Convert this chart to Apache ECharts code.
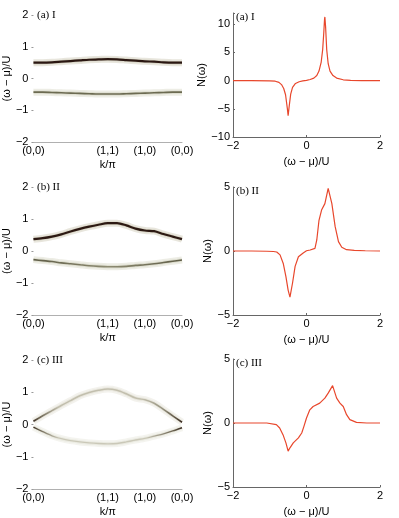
<!DOCTYPE html>
<html>
<head>
<meta charset="utf-8">
<style>
  html, body { margin: 0; padding: 0; background: #fff; }
  #main { width: 399px; height: 518px; }
</style>
<script src="https://cdn.jsdelivr.net/npm/echarts@6/dist/echarts.min.js"></script>
</head>
<body>
<div id="main"></div>
<script>
// k path (0,0) -> (1,1) -> (1,0) -> (0,0)
var kPath = [0, 0.25, 0.5, 0.75, 1, 1.25, 1.5, 1.75, 2, 2.25, 2.5, 2.75, 3, 3.25, 3.5, 3.75, 4];
var kTickLabels = {0: '(0,0)', 2: '(1,1)', 3: '(1,0)', 4: '(0,0)'};

// band positions (omega - mu)/U along kPath
var bandAUpper = [0.50, 0.50, 0.51, 0.53, 0.55, 0.57, 0.59, 0.60, 0.61, 0.60, 0.58, 0.56, 0.54, 0.53, 0.51, 0.50, 0.50];
var bandALower = [-0.43, -0.43, -0.44, -0.45, -0.46, -0.47, -0.48, -0.49, -0.49, -0.49, -0.48, -0.47, -0.46, -0.45, -0.44, -0.43, -0.43];
var bandBUpper = [0.37, 0.40, 0.45, 0.52, 0.61, 0.69, 0.76, 0.82, 0.87, 0.87, 0.80, 0.70, 0.64, 0.62, 0.53, 0.45, 0.37];
var bandBLower = [-0.27, -0.30, -0.33, -0.37, -0.40, -0.43, -0.46, -0.48, -0.49, -0.49, -0.48, -0.45, -0.43, -0.40, -0.36, -0.32, -0.28];
var bandCUpper = [0.10, 0.27, 0.43, 0.59, 0.74, 0.89, 0.99, 1.06, 1.10, 1.06, 0.95, 0.82, 0.77, 0.66, 0.47, 0.27, 0.07];
var bandCLower = [-0.08, -0.22, -0.35, -0.44, -0.50, -0.54, -0.57, -0.59, -0.60, -0.59, -0.54, -0.48, -0.43, -0.36, -0.29, -0.20, -0.10];

// N(omega)
var omegaA = [-2, -1.5, -1.0, -0.85, -0.75, -0.68, -0.62, -0.57, -0.52, -0.5, -0.47, -0.43, -0.38, -0.3, -0.2, -0.1, 0, 0.1, 0.2, 0.28, 0.34, 0.4, 0.44, 0.47, 0.49, 0.5, 0.52, 0.55, 0.59, 0.64, 0.72, 0.82, 1.0, 1.2, 1.5, 2];
var dosA = [0, 0, -0.03, -0.1, -0.3, -0.7, -1.4, -2.5, -5.0, -6.2, -4.5, -2.4, -1.2, -0.5, -0.2, -0.05, 0.05, 0.2, 0.45, 0.9, 1.7, 3.3, 5.5, 8.5, 10.8, 11.3, 9.5, 5.5, 3.0, 1.7, 0.9, 0.45, 0.15, 0.05, 0.01, 0];
var omegaB = [-2, -1.5, -1.08, -0.9, -0.81, -0.72, -0.63, -0.56, -0.5, -0.45, -0.38, -0.31, -0.22, -0.09, 0, 0.1, 0.23, 0.28, 0.34, 0.41, 0.5, 0.59, 0.62, 0.69, 0.78, 0.87, 0.96, 1.09, 1.3, 1.6, 2];
var dosB = [0, 0, -0.02, -0.04, -0.08, -0.3, -1.0, -2.0, -3.05, -3.6, -2.5, -1.2, -0.45, -0.15, 0.02, 0.08, 0.2, 0.86, 2.4, 3.2, 3.7, 4.9, 5.0, 3.7, 1.9, 0.73, 0.29, 0.1, 0.05, 0.02, 0];
var omegaC = [-2, -1.5, -1.08, -0.82, -0.73, -0.64, -0.56, -0.5, -0.45, -0.36, -0.22, -0.13, -0.07, 0, 0.09, 0.18, 0.36, 0.5, 0.59, 0.71, 0.82, 0.91, 1.0, 1.09, 1.18, 1.36, 1.64, 2];
var dosC = [0, 0, 0, -0.13, -0.39, -0.91, -1.55, -2.2, -1.94, -1.55, -1.16, -0.78, -0.26, 0.39, 1.03, 1.29, 1.55, 1.94, 2.33, 2.92, 1.94, 1.55, 1.29, 0.65, 0.26, 0.05, 0, 0];

var panelNames = ['(a) I', '(b) II', '(c) III'];

var myChart = echarts.init(document.getElementById('main'));

var tickFont = 'Liberation Sans, Arial, sans-serif';
var serifFont = 'Liberation Serif, Times New Roman, serif';

function pairs(xs, ys) {
  return xs.map(function (x, i) { return [x, ys[i]]; });
}
function minusFmt(v) {
  return v < 0 ? '\u2212' + Math.abs(v) : String(v);
}
function grad(stops) {
  return new echarts.graphic.LinearGradient(0, 0, 1, 0, stops.map(function (s) {
    return {offset: s[0], color: s[1]};
  }));
}

var leftGrids = [
  {left: 33, top: 15, width: 149, height: 127},
  {left: 33, top: 187, width: 149, height: 128},
  {left: 33, top: 360, width: 149, height: 129}
];
var rightGrids = [
  {left: 233, top: 13, width: 147, height: 124},
  {left: 233, top: 187, width: 147, height: 128},
  {left: 233, top: 359, width: 147, height: 129}
];
var dosRanges = [[-10, 12], [-5, 5], [-5, 5]];
var dosSets = [[omegaA, dosA], [omegaB, dosB], [omegaC, dosC]];

var bandSets = [[bandAUpper, bandALower], [bandBUpper, bandBLower], [bandCUpper, bandCLower]];
var bandStyles = [
  {upper: '#2a1712', lower: '#6c6b52', uHalo: 'rgba(150,140,100,0.22)', lHalo: 'rgba(165,165,125,0.2)', uw: 2.2, lw: 1.6},
  {upper: '#2c1913', lower: grad([[0, '#5e5c46'], [0.5, '#8d8b72'], [1, '#5e5c46']]), uHalo: 'rgba(150,140,100,0.22)', lHalo: 'rgba(165,165,125,0.2)', uw: 2.2, lw: 1.6},
  {upper: grad([[0, '#2a1a14'], [0.05, '#6a6250'], [0.18, '#c2bfae'], [0.72, '#c2bfae'], [0.85, '#9a9784'], [0.95, '#5a5040'], [1, '#2a1a14']]),
   lower: grad([[0, '#2a1a14'], [0.05, '#6a6250'], [0.18, '#cac8b8'], [0.75, '#cac8b8'], [0.93, '#6a6250'], [1, '#2a1a14']]),
   uHalo: 'rgba(180,175,140,0.16)', lHalo: 'rgba(180,175,140,0.14)', uw: 1.6, lw: 1.4}
];

var grid = [], xAxis = [], yAxis = [], series = [], title = [];

for (var p = 0; p < 3; p++) {
  var gl = 2 * p, gr = 2 * p + 1;
  grid.push(leftGrids[p], rightGrids[p]);

  // left: dispersion
  xAxis.push({
    gridIndex: gl, type: 'value', min: 0, max: 4, interval: 1,
    name: 'k/\u03c0', nameLocation: 'middle', nameGap: 17,
    nameTextStyle: {fontFamily: tickFont, fontSize: 11, color: '#000'},
    axisLine: {onZero: false, lineStyle: {color: '#b0b0b0', width: 1}},
    axisTick: {show: false}, splitLine: {show: false},
    axisLabel: {fontFamily: tickFont, fontSize: 11, color: '#000', margin: 3,
      formatter: function (v) { return kTickLabels[v] || ''; }}
  });
  yAxis.push({
    gridIndex: gl, type: 'value', min: -2, max: 2, interval: 1,
    name: '(\u03c9 \u2212 \u03bc)/U', nameLocation: 'middle', nameGap: 19,
    nameTextStyle: {fontFamily: tickFont, fontSize: 11, color: '#000'},
    axisLine: {show: false},
    axisTick: {show: true, length: 2, lineStyle: {color: '#999'}},
    splitLine: {show: false},
    axisLabel: {fontFamily: tickFont, fontSize: 11, color: '#000', margin: 5, formatter: minusFmt}
  });

  // right: N(omega)
  xAxis.push({
    gridIndex: gr, type: 'value', min: -2, max: 2, interval: 2,
    name: '(\u03c9 \u2212 \u03bc)/U', nameLocation: 'middle', nameGap: 19,
    nameTextStyle: {fontFamily: tickFont, fontSize: 11, color: '#000'},
    axisLine: {onZero: false, lineStyle: {color: '#666', width: 1}},
    axisTick: {inside: true, length: 2, lineStyle: {color: '#666'}},
    splitLine: {show: false},
    axisLabel: {fontFamily: tickFont, fontSize: 11, color: '#000', margin: 3, formatter: minusFmt}
  });
  yAxis.push({
    gridIndex: gr, type: 'value', min: dosRanges[p][0], max: dosRanges[p][1], interval: 5,
    name: 'N(\u03c9)', nameLocation: 'middle', nameGap: 18,
    nameTextStyle: {fontFamily: tickFont, fontSize: 11, color: '#000'},
    axisLine: {show: true, onZero: false, lineStyle: {color: '#666', width: 1}},
    axisTick: {inside: true, length: 2, lineStyle: {color: '#666'}},
    splitLine: {show: false},
    axisLabel: {fontFamily: tickFont, fontSize: 11, color: '#000', margin: 3,
      formatter: function (v) { return v % 5 === 0 ? minusFmt(v) : ''; }}
  });

  var st = bandStyles[p];
  var bands = bandSets[p];
  [[bands[0], st.upper, st.uHalo, st.uw], [bands[1], st.lower, st.lHalo, st.lw]].forEach(function (b) {
    var d = pairs(kPath, b[0]);
    series.push({
      type: 'line', xAxisIndex: gl, yAxisIndex: gl, data: d, smooth: 0.3,
      showSymbol: false, silent: true, lineStyle: {color: b[2], width: 7}
    });
    series.push({
      type: 'line', xAxisIndex: gl, yAxisIndex: gl, data: d, smooth: 0.3,
      showSymbol: false, silent: true, lineStyle: {color: b[2], width: 3.5}
    });
    series.push({
      type: 'line', xAxisIndex: gl, yAxisIndex: gl, data: d, smooth: 0.3,
      showSymbol: false, silent: true, lineStyle: {color: b[1], width: b[3]}
    });
  });

  series.push({
    type: 'line', xAxisIndex: gr, yAxisIndex: gr,
    data: pairs(dosSets[p][0], dosSets[p][1]),
    showSymbol: false, silent: true,
    lineStyle: {color: '#e8472c', width: 1.2}
  });

  title.push({
    text: panelNames[p], left: leftGrids[p].left + 4, top: leftGrids[p].top - 5, padding: 0,
    textStyle: {fontFamily: serifFont, fontSize: 11, fontWeight: 'normal', color: '#000'}
  });
  title.push({
    text: panelNames[p], left: rightGrids[p].left + 3, top: rightGrids[p].top - 1, padding: 0,
    textStyle: {fontFamily: serifFont, fontSize: 11, fontWeight: 'normal', color: '#000'}
  });
}

var option = {
  animation: false,
  backgroundColor: '#fff',
  title: title,
  grid: grid,
  xAxis: xAxis,
  yAxis: yAxis,
  series: series
};
myChart.setOption(option);
</script>
</body>
</html>
